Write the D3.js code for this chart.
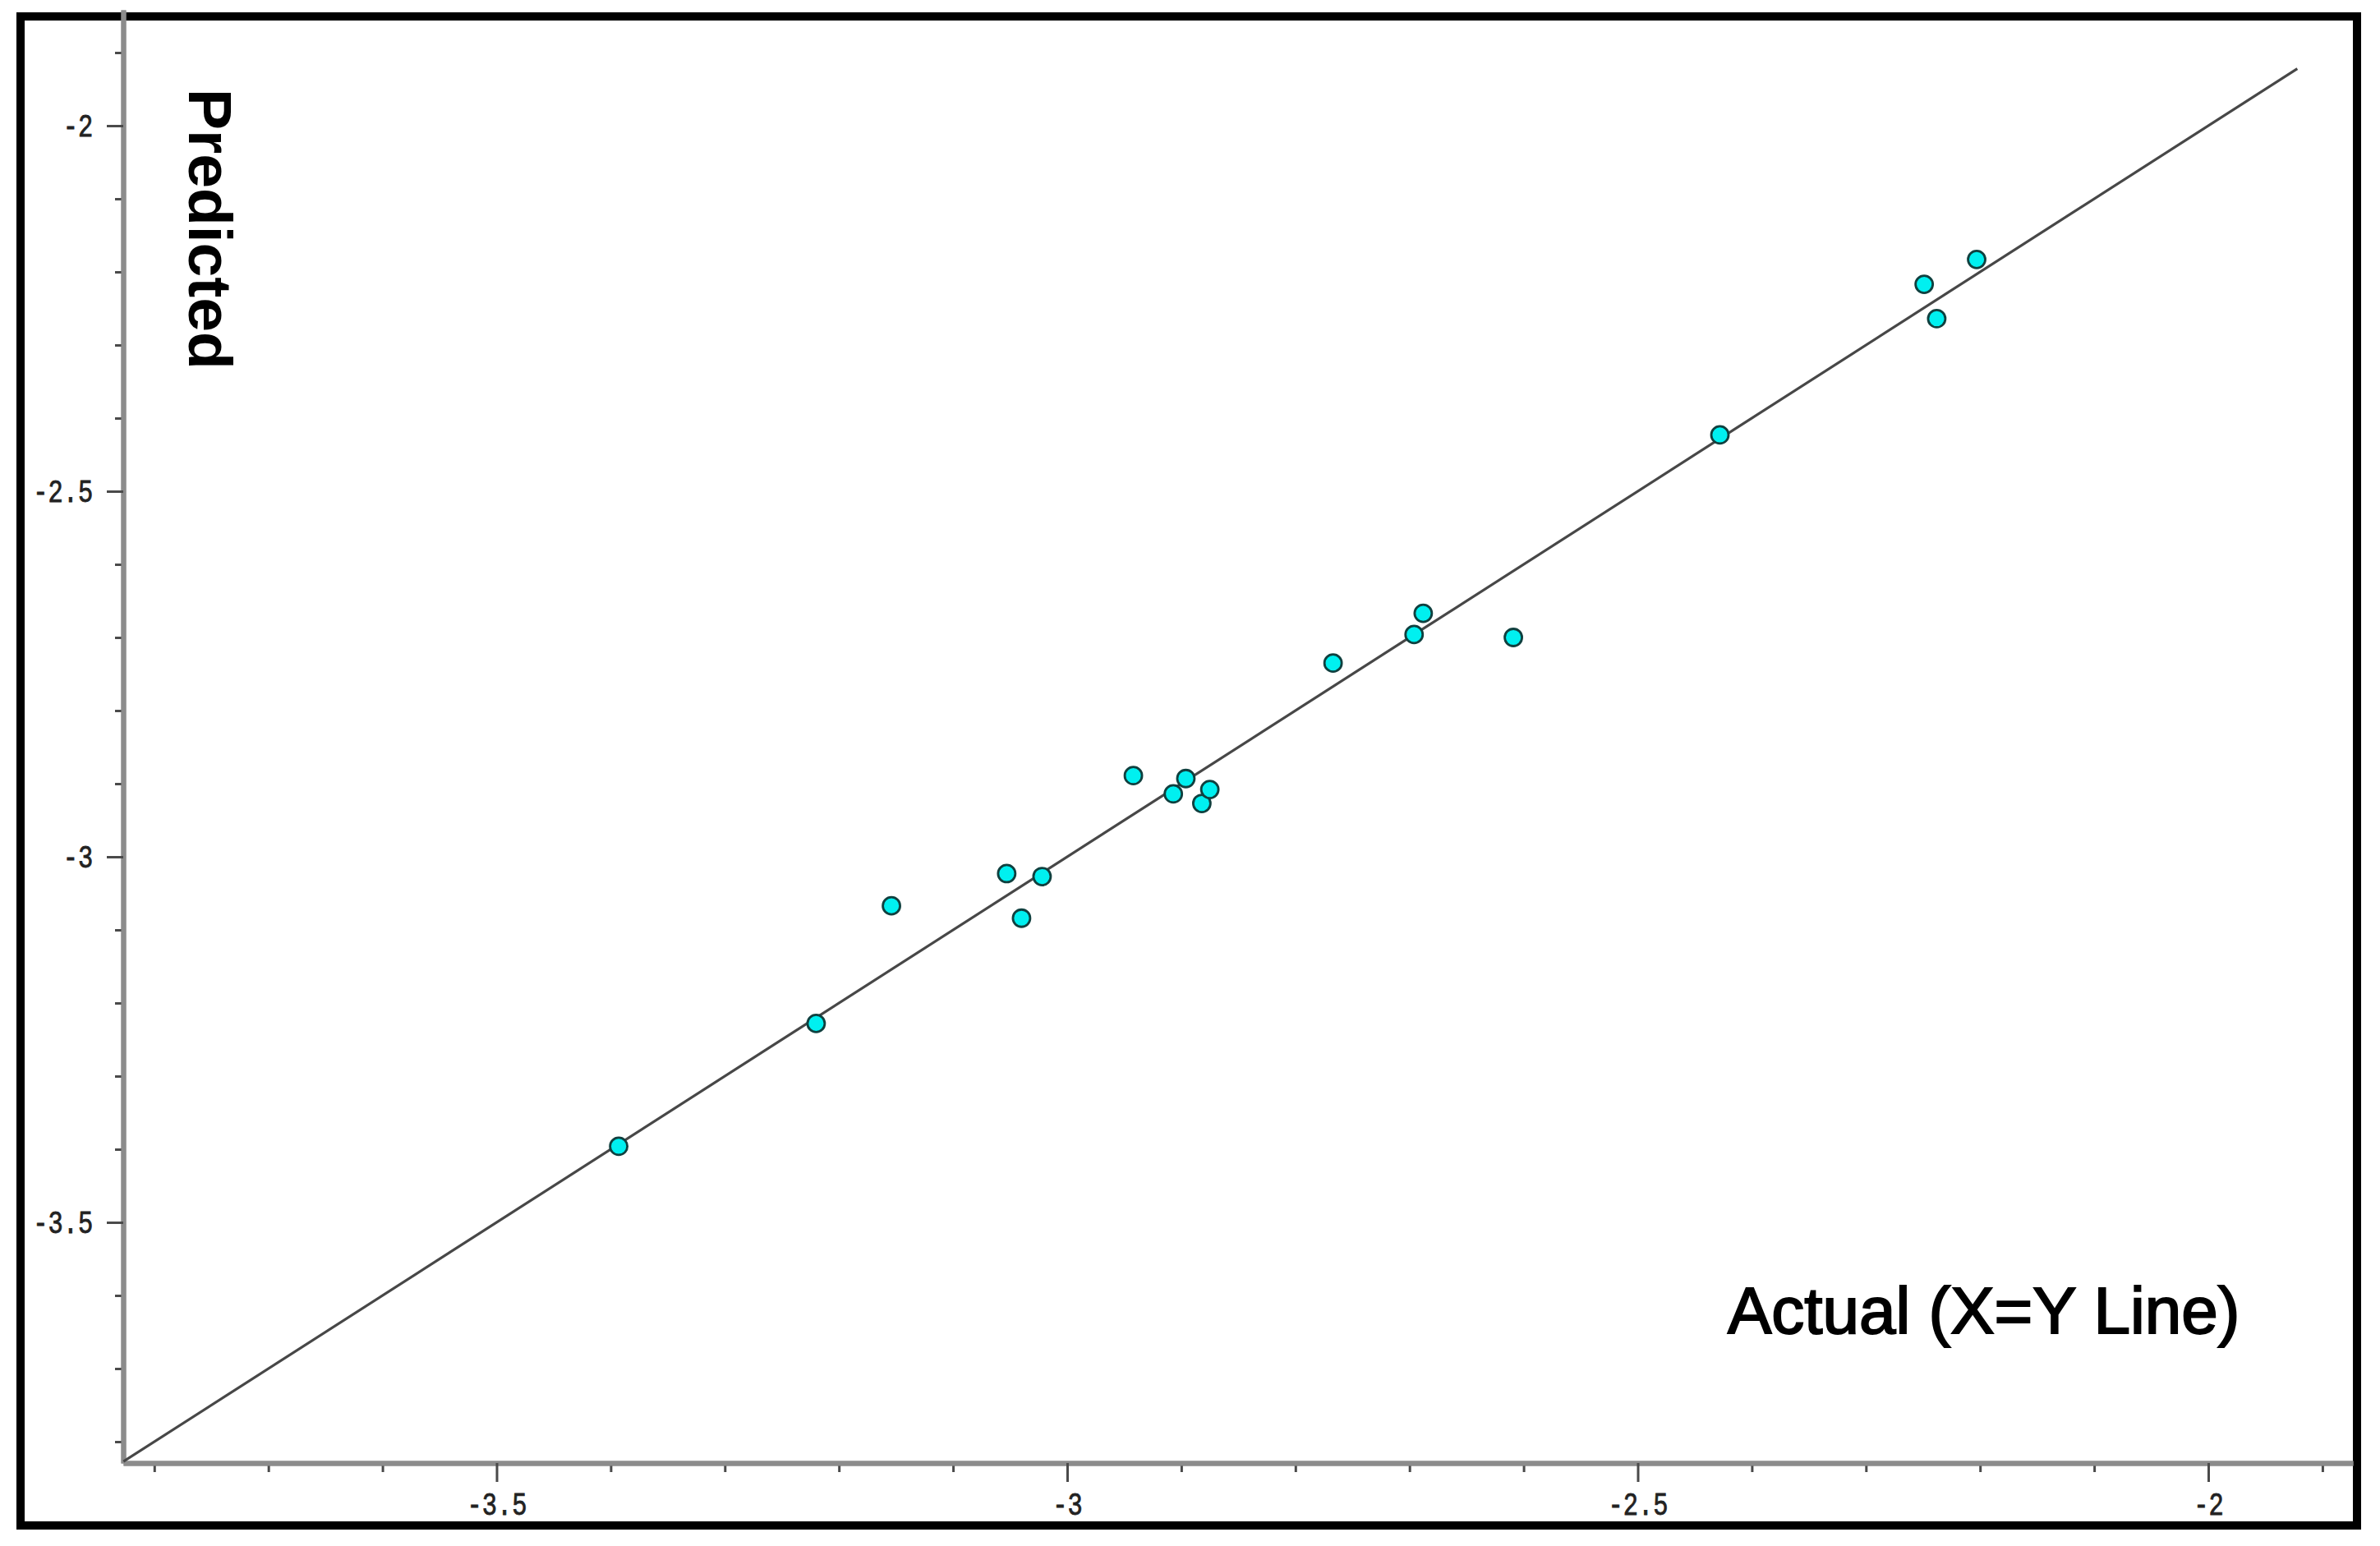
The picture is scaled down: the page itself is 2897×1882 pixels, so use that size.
<!DOCTYPE html>
<html>
<head>
<meta charset="utf-8">
<script src="https://cdn.jsdelivr.net/npm/d3@7"></script>
<style>
  html, body { margin: 0; padding: 0; background: #ffffff; }
  svg { display: block; }
</style>
</head>
<body>
<svg id="chart" width="2897" height="1882"></svg>
<script>
// ---- data ----
const actual = [-3.393, -3.220, -3.154, -3.053, -3.040, -3.022, -2.942, -2.907, -2.896,
                -2.882, -2.875, -2.767, -2.696, -2.688, -2.609, -2.428, -2.249, -2.238, -2.203];
const predicted = [-3.396, -3.228, -3.067, -3.023, -3.084, -3.027, -2.889, -2.914, -2.893,
                   -2.927, -2.908, -2.735, -2.696, -2.667, -2.700, -2.423, -2.217, -2.264, -2.183];
const xMajorTicks = [-3.5, -3, -2.5, -2];
const xMajorLabels = ["-3.5", "-3", "-2.5", "-2"];
const xMinorTicks = [-3.8, -3.7, -3.6, -3.4, -3.3, -3.2, -3.1, -2.9, -2.8, -2.7, -2.6, -2.4, -2.3, -2.2, -2.1, -1.9];
const yMajorTicks = [-3.5, -3, -2.5, -2];
const yMajorLabels = ["-3.5", "-3", "-2.5", "-2"];
const yMinorTicks = [-3.8, -3.7, -3.6, -3.4, -3.3, -3.2, -3.1, -2.9, -2.8, -2.7, -2.6, -2.4, -2.3, -2.2, -2.1, -1.9];
const xDomain = [-3.8272, -1.8733];
const yDomain = [-3.8292, -1.8416];
const identityLine = [-3.827, -1.922];
const xTitle = "Actual (X=Y Line)";
const yTitle = "Predicted";

// ---- drawing ----
const svg = d3.select("#chart");

const x = d3.scaleLinear().domain(xDomain).range([150, 2864]);
const y = d3.scaleLinear().domain(yDomain).range([1781, 12]);

// outer frame
svg.append("rect")
  .attr("x", 25).attr("y", 20)
  .attr("width", 2844).attr("height", 1837)
  .attr("fill", "none").attr("stroke", "#000").attr("stroke-width", 10);

const axisColor = "#8c8c8c";
const tickColor = "#4a4a4a";
const labelFont = "'Liberation Mono', 'DejaVu Sans Mono', monospace";

// Y minor ticks
const gyMinor = svg.append("g").attr("transform", "translate(150,0)")
  .call(d3.axisLeft(y).tickValues(yMinorTicks).tickSize(10).tickSizeOuter(0).tickFormat(""));
// Y major ticks
const gy = svg.append("g").attr("transform", "translate(150,0)")
  .call(d3.axisLeft(y).tickValues(yMajorTicks).tickSize(20).tickSizeOuter(0)
        .tickFormat((d, i) => yMajorLabels[i]));

// X minor ticks
const gxMinor = svg.append("g").attr("transform", "translate(0,1781)")
  .call(d3.axisBottom(x).tickValues(xMinorTicks).tickSize(11).tickSizeOuter(0).tickFormat(""));
// X major ticks
const gx = svg.append("g").attr("transform", "translate(0,1781)")
  .call(d3.axisBottom(x).tickValues(xMajorTicks).tickSize(23).tickSizeOuter(0)
        .tickFormat((d, i) => xMajorLabels[i]));

[gyMinor, gy, gxMinor, gx].forEach(g => {
  g.select(".domain").attr("stroke", axisColor).attr("stroke-width", 6);
  g.selectAll(".tick line").attr("stroke", tickColor).attr("stroke-width", 3);
});

gy.selectAll(".tick text")
  .attr("font-family", labelFont)
  .attr("font-size", 38)
  .attr("fill", "#222")
  .attr("stroke", "#222").attr("stroke-width", 0.8)
  .attr("text-anchor", "end")
  .attr("x", -46)
  .attr("dy", "0.34em")
  .attr("transform", "scale(0.8,1)");

gx.selectAll(".tick text")
  .attr("font-family", labelFont)
  .attr("font-size", 38)
  .attr("fill", "#222")
  .attr("stroke", "#222").attr("stroke-width", 0.8)
  .attr("text-anchor", "middle")
  .attr("y", 63)
  .attr("dy", 0)
  .attr("transform", "scale(0.8,1)");

// X = Y line
svg.append("line")
  .attr("x1", x(identityLine[0])).attr("y1", y(identityLine[0]))
  .attr("x2", x(identityLine[1])).attr("y2", y(identityLine[1]))
  .attr("stroke", "#474747").attr("stroke-width", 3.2);

// points
svg.append("g").selectAll("circle")
  .data(actual.map((a, i) => ({a, p: predicted[i]})))
  .join("circle")
  .attr("cx", d => x(d.a))
  .attr("cy", d => y(d.p))
  .attr("r", 10.5)
  .attr("fill", "#00f0f0")
  .attr("stroke", "#10403f")
  .attr("stroke-width", 2.8);

// titles
svg.append("text")
  .attr("transform", "translate(230,108) rotate(90)")
  .attr("font-family", "'Liberation Sans', Arial, sans-serif")
  .attr("font-weight", "bold")
  .attr("font-size", 75)
  .attr("fill", "#000")
  .text(yTitle);

svg.append("text")
  .attr("x", 2103).attr("y", 1623)
  .attr("font-family", "'Liberation Sans', Arial, sans-serif")
  .attr("font-size", 80)
  .attr("fill", "#000")
  .attr("stroke", "#000").attr("stroke-width", 2)
  .text(xTitle);
</script>
</body>
</html>
